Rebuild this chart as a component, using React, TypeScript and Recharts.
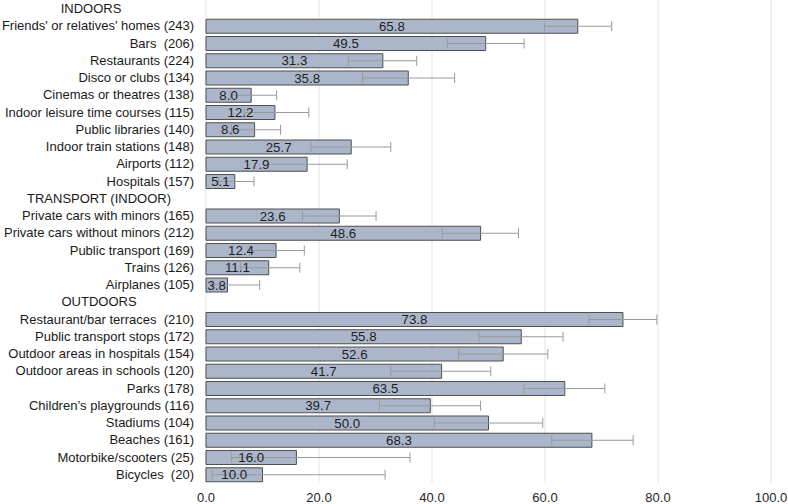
import React from 'react';
import { BarChart, Bar, XAxis, YAxis, CartesianGrid, ErrorBar, LabelList } from 'recharts';

const headers = ['INDOORS', 'TRANSPORT (INDOOR)', 'OUTDOORS'];

const categories = [
  'INDOORS',
  "Friends' or relatives' homes (243)",
  'Bars  (206)',
  'Restaurants (224)',
  'Disco or clubs (134)',
  'Cinemas or theatres (138)',
  'Indoor leisure time courses (115)',
  'Public libraries (140)',
  'Indoor train stations (148)',
  'Airports (112)',
  'Hospitals (157)',
  'TRANSPORT (INDOOR)',
  'Private cars with minors (165)',
  'Private cars without minors (212)',
  'Public transport (169)',
  'Trains (126)',
  'Airplanes (105)',
  'OUTDOORS',
  'Restaurant/bar terraces  (210)',
  'Public transport stops (172)',
  'Outdoor areas in hospitals (154)',
  'Outdoor areas in schools (120)',
  'Parks (178)',
  'Children\u2019s playgrounds (116)',
  'Stadiums (104)',
  'Beaches (161)',
  'Motorbike/scooters (25)',
  'Bicycles  (20)',
];

const values: (number | null)[] = [
  null, 65.8, 49.5, 31.3, 35.8, 8.0, 12.2, 8.6, 25.7, 17.9, 5.1,
  null, 23.6, 48.6, 12.4, 11.1, 3.8,
  null, 73.8, 55.8, 52.6, 41.7, 63.5, 39.7, 50.0, 68.3, 16.0, 10.0,
];

const ciLow: (number | null)[] = [
  null, 59.9, 42.7, 25.2, 27.7, 4.3, 6.8, 4.5, 18.6, 11.0, 2.2,
  null, 17.1, 41.8, 7.7, 6.1, 1.1,
  null, 67.8, 48.3, 44.7, 32.7, 56.3, 30.7, 40.4, 61.2, 4.5, 1.1,
];

const ciHigh: (number | null)[] = [
  null, 71.8, 56.3, 37.3, 44.0, 12.5, 18.2, 13.2, 32.7, 25.0, 8.5,
  null, 30.1, 55.3, 17.4, 16.6, 9.5,
  null, 79.8, 63.2, 60.5, 50.4, 70.6, 48.6, 59.6, 75.6, 36.1, 31.7,
];

const xTicks = [0, 20, 40, 60, 80, 100];

const data = categories.map((name, i) => {
  const v = values[i];
  const lo = ciLow[i];
  const hi = ciHigh[i];
  const row: any = { name, value: v };
  if (v != null && lo != null && hi != null) {
    row.err = [v - lo, hi - v];
  }
  return row;
});

const FONT = '"Liberation Sans", Arial, sans-serif';

const CategoryTick = (props: any) => {
  const { y, payload } = props;
  const label: string = payload.value;
  const isHeader = headers.includes(label);
  const headerX = label === 'INDOORS' ? 91 : 99;
  return (
    <text
      x={isHeader ? headerX : 194}
      y={y}
      dy="0.355em"
      textAnchor={isHeader ? 'middle' : 'end'}
      fontSize={13}
      fontFamily={FONT}
      fill="#1a1a1a"
      style={{ whiteSpace: 'pre' }}
    >
      {label}
    </text>
  );
};

export default function App() {
  return (
    <div style={{ position: 'absolute', left: 0, top: 0, width: 788, height: 504, background: '#fff' }}>
      <BarChart
        width={788}
        height={504}
        data={data}
        layout="vertical"
        margin={{ top: 0, right: 17, bottom: 0, left: 0 }}
        style={{ fontFamily: FONT }}
      >
        <CartesianGrid vertical={true} horizontal={false} stroke="#e3e3e3" />
        <XAxis
          type="number"
          domain={[0, 100]}
          ticks={xTicks}
          tickFormatter={(v: number) => v.toFixed(1)}
          axisLine={false}
          tickLine={false}
          height={21}
          tick={{ fontSize: 13, fill: '#262626', fontFamily: FONT, dy: 2 }}
          interval={0}
        />
        <YAxis
          type="category"
          dataKey="name"
          width={206}
          axisLine={false}
          tickLine={false}
          interval={0}
          tick={<CategoryTick />}
        />
        <Bar
          dataKey="value"
          fill="#abb6cb"
          stroke="#4f4f4f"
          strokeWidth={1}
          barSize={14}
          isAnimationActive={false}
        >
          <ErrorBar dataKey="err" direction="x" width={5} stroke="#9a9a9a" strokeWidth={1} isAnimationActive={false} />
          <LabelList
            dataKey="value"
            position="center"
            formatter={(v: any) => (v == null ? '' : Number(v).toFixed(1))}
            fill="#1f1f1f"
            fontSize={13.3}
            fontFamily={FONT}
          />
        </Bar>
      </BarChart>
    </div>
  );
}
